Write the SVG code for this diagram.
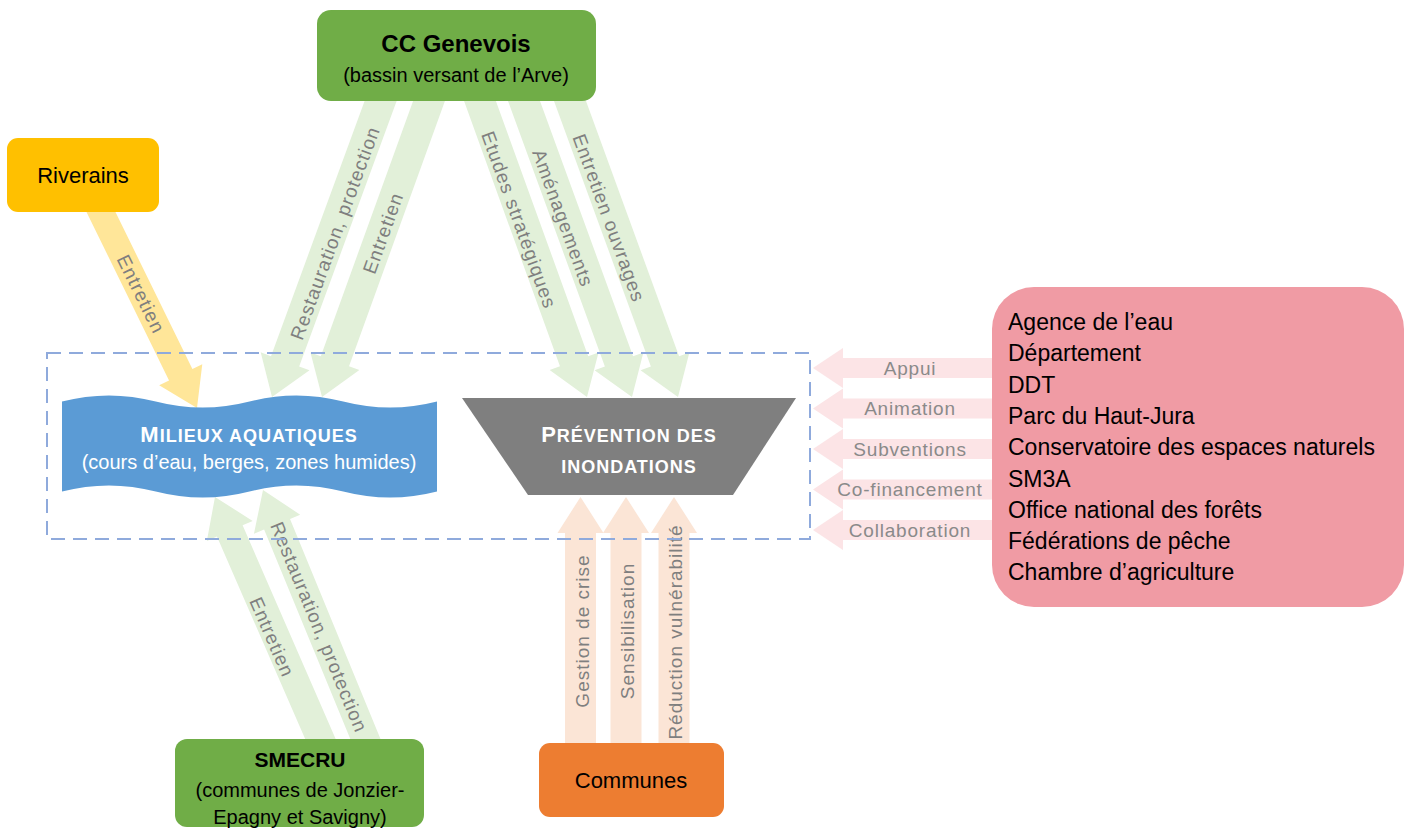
<svg xmlns="http://www.w3.org/2000/svg" width="1407" height="829" viewBox="0 0 1407 829">
<style>
  text { font-family: "Liberation Sans", Arial, sans-serif; }
  .lbl { font-size: 19px; letter-spacing: 1px; fill: #7F7F7F; text-anchor: middle; }
  .plbl { font-size: 19px; letter-spacing: 0.8px; fill: #8A8A8A; text-anchor: middle; }
  .g { fill: #E2F0D9; }
  .y { fill: #FFE699; }
  .o { fill: #FBE5D6; }
  .p { fill: #FCE4E6; }
  .dark { fill: #000; text-anchor: middle; }
  .white { fill: #fff; text-anchor: middle; }
  .bold { font-weight: bold; }
  .list { font-size: 23px; fill: #000; }
</style>
<rect width="1407" height="829" fill="#fff"/>

<g id="connectors">
  <!-- CC Genevois -> Milieux -->
  <polygon class="g" points="372.4,79.8 271.01,356.16 260.68,352.37 272,397 309.5,370.29 299.17,366.5 400.6,90.2"/>
  <polygon class="g" points="420.7,79.9 320.81,356.16 310.47,352.42 322,397 359.37,370.1 349.03,366.36 448.9,90.1"/>
  <!-- CC Genevois -> Prevention -->
  <polygon class="g" points="460.1,90.1 559.97,366.36 549.63,370.1 587,397 598.53,352.42 588.19,356.16 488.3,79.9"/>
  <polygon class="g" points="504.07,90.14 604.88,366.44 594.55,370.21 632,397 643.39,352.39 633.06,356.16 532.25,79.86"/>
  <polygon class="g" points="550.07,90.14 650.88,366.44 640.55,370.21 678,397 689.39,352.39 679.06,356.16 578.25,79.86"/>
  <!-- Riverains -> Milieux -->
  <polygon class="y" points="83.42,205.72 169.04,380.49 159.17,385.33 197,408 202.27,364.21 192.4,369.05 106.78,194.28"/>
  <!-- SMECRU -> Milieux -->
  <polygon class="g" points="338.07,744.41 242.62,525.33 252.7,520.93 215,497 206.86,540.91 216.94,536.51 312.39,755.59"/>
  <polygon class="g" points="382.89,744.67 290.02,518.89 300.19,514.71 263,490 253.95,533.73 264.12,529.55 356.99,755.33"/>
  <!-- Communes -> Prevention -->
  <polygon class="o" points="565,750 565,533 557.5,533 580.5,497 603.5,533 596,533 596,750"/>
  <polygon class="o" points="610.5,750 610.5,533 603,533 626,497 649,533 641.5,533 641.5,750"/>
  <polygon class="o" points="658.5,750 658.5,533 651,533 674,497 697,533 689.5,533 689.5,750"/>
  <!-- Partners -> perimeter -->
  <polygon class="p" points="1000,358 843,358 843,348 813,368 843,388 843,378 1000,378"/>
  <polygon class="p" points="1000,398.5 843,398.5 843,388.5 813,408.5 843,428.5 843,418.5 1000,418.5"/>
  <polygon class="p" points="1000,439 843,439 843,429 813,449 843,469 843,459 1000,459"/>
  <polygon class="p" points="1000,479.5 843,479.5 843,469.5 813,489.5 843,509.5 843,499.5 1000,499.5"/>
  <polygon class="p" points="1000,520 843,520 843,510 813,530 843,550 843,540 1000,540"/>

  <!-- labels -->
  <text class="lbl" transform="translate(335,233) rotate(-69.85)" dy="0.35em">Restauration, protection</text>
  <text class="lbl" transform="translate(383,233) rotate(-70.13)" dy="0.35em">Entretien</text>
  <text class="lbl" transform="translate(519,220) rotate(70.13)" dy="0.35em">Etudes stratégiques</text>
  <text class="lbl" transform="translate(563,218) rotate(69.96)" dy="0.35em">Aménagements</text>
  <text class="lbl" transform="translate(609,218) rotate(69.96)" dy="0.35em">Entretien ouvrages</text>
  <text class="lbl" transform="translate(141,294) rotate(63.9)" dy="0.35em">Entretien</text>
  <text class="lbl" transform="translate(272,637) rotate(66.46)" dy="0.35em">Entretien</text>
  <text class="lbl" transform="translate(319,627) rotate(67.64)" dy="0.35em">Restauration, protection</text>
  <text class="lbl" transform="translate(582,631) rotate(-90)" dy="0.35em">Gestion de crise</text>
  <text class="lbl" transform="translate(627,631) rotate(-90)" dy="0.35em">Sensibilisation</text>
  <text class="lbl" transform="translate(675,632) rotate(-90)" dy="0.35em">Réduction vulnérabilité</text>
  <text class="plbl" x="910" y="374.5">Appui</text>
  <text class="plbl" x="910" y="415">Animation</text>
  <text class="plbl" x="910" y="455.5">Subventions</text>
  <text class="plbl" x="910" y="496">Co-financement</text>
  <text class="plbl" x="910" y="536.5">Collaboration</text>
</g>

<g id="cc-genevois">
  <rect x="317" y="10" width="279" height="91" rx="14" fill="#70AD47"/>
  <text class="dark bold" x="456" y="52" font-size="24">CC Genevois</text>
  <text class="dark" x="456" y="82" font-size="20">(bassin versant de l’Arve)</text>
</g>

<g id="riverains">
  <rect x="7" y="138" width="152" height="74" rx="11" fill="#FFC000"/>
  <text class="dark" x="83" y="183" font-size="22">Riverains</text>
</g>

<g id="milieux-aquatiques">
  <path d="M62,401.5 Q108.9,389.5 155.75,401.5 T249.5,401.5 T343.25,401.5 T437,401.5 L437,491.5 Q390.1,503.5 343.25,491.5 T249.5,491.5 T155.75,491.5 T62,491.5 Z" fill="#5B9BD5"/>
  <text class="white bold" x="249" y="442" letter-spacing="1"><tspan font-size="22">M</tspan><tspan font-size="18">ILIEUX AQUATIQUES</tspan></text>
  <text class="white" x="249" y="469" font-size="20">(cours d’eau, berges, zones humides)</text>
</g>

<g id="prevention-inondations">
  <polygon points="462,398 796,398 733,495 528,495" fill="#7F7F7F"/>
  <text class="white bold" x="629" y="442" letter-spacing="1"><tspan font-size="22">P</tspan><tspan font-size="18">RÉVENTION DES</tspan></text>
  <text class="white bold" x="629" y="473" font-size="18" letter-spacing="1">INONDATIONS</text>
</g>

<g id="partenaires">
  <rect x="992" y="287" width="412" height="320" rx="42" fill="#F09BA4"/>
  <text class="list" x="1008" y="330">Agence de l’eau</text>
  <text class="list" x="1008" y="361.3">Département</text>
  <text class="list" x="1008" y="392.6">DDT</text>
  <text class="list" x="1008" y="423.9">Parc du Haut-Jura</text>
  <text class="list" x="1008" y="455.2">Conservatoire des espaces naturels</text>
  <text class="list" x="1008" y="486.5">SM3A</text>
  <text class="list" x="1008" y="517.8">Office national des forêts</text>
  <text class="list" x="1008" y="549.1">Fédérations de pêche</text>
  <text class="list" x="1008" y="580.4">Chambre d’agriculture</text>
</g>

<g id="smecru">
  <rect x="175" y="739" width="249" height="88" rx="12" fill="#70AD47"/>
  <text class="dark bold" x="300" y="767" font-size="21">SMECRU</text>
  <text class="dark" x="300" y="797" font-size="20">(communes de Jonzier-</text>
  <text class="dark" x="300" y="824" font-size="20">Epagny et Savigny)</text>
</g>

<g id="communes">
  <rect x="539" y="743" width="185" height="74" rx="11" fill="#ED7D31"/>
  <text class="dark" x="631" y="788" font-size="22">Communes</text>
</g>

<g id="perimetre-gemapi">
  <rect x="47" y="353" width="763" height="186" fill="none" stroke="#8FAADC" stroke-width="2" stroke-dasharray="14 8"/>
</g>
</svg>
